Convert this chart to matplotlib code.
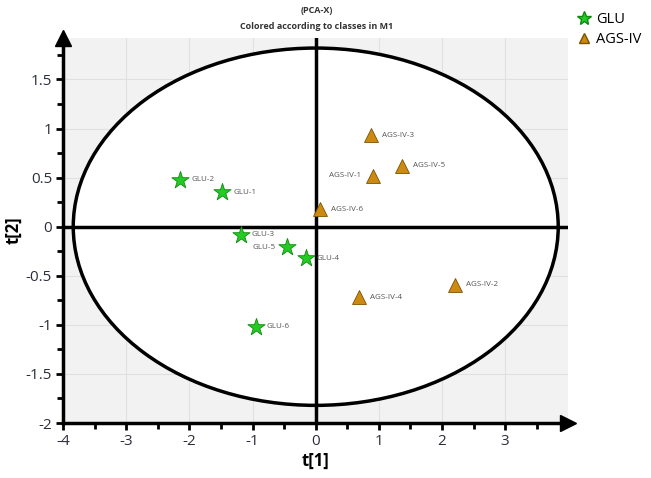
import numpy as np
import matplotlib.pyplot as plt
from matplotlib.patches import Ellipse
from matplotlib.lines import Line2D

# scores
glu_names = ["GLU-1", "GLU-2", "GLU-3", "GLU-4", "GLU-5", "GLU-6"]
glu_t1 = [-1.48, -2.15, -1.19, -0.16, -0.46, -0.95]
glu_t2 = [0.35, 0.48, -0.08, -0.32, -0.21, -1.02]

ags_names = ["AGS-IV-1", "AGS-IV-2", "AGS-IV-3", "AGS-IV-4", "AGS-IV-5", "AGS-IV-6"]
ags_t1 = [0.90, 2.20, 0.87, 0.68, 1.36, 0.07]
ags_t2 = [0.52, -0.59, 0.93, -0.72, 0.62, 0.18]

# Hotelling T2 ellipse half-axes
ell_a, ell_b = 3.84, 1.82

x_ticks = [-4, -3, -2, -1, 0, 1, 2, 3]
y_ticks = [-2, -1.5, -1, -0.5, 0, 0.5, 1, 1.5]

plt.rcParams["font.family"] = ["Open Sans", "DejaVu Sans"]

fig = plt.figure(figsize=(6.51, 4.78), dpi=100)
ax = fig.add_axes([0.097, 0.115, 0.776, 0.805])
ax.set_facecolor("#f2f2f2")
ax.set_xlim(-4, 4.0)
ax.set_ylim(-2, 1.92)

ax.set_xticks(x_ticks)
ax.set_xticks(np.arange(-4, 4.0, 0.5), minor=True)
ax.set_yticks(y_ticks)
ax.set_yticks(np.arange(-2, 1.9, 0.25), minor=True)
ax.set_xticklabels([str(v) for v in x_ticks], fontsize=11, color="#2b2f3a")
ax.set_yticklabels([("%g" % v) for v in y_ticks], fontsize=11, color="#2b2f3a")
ax.tick_params(which="major", length=5, width=2, direction="out", pad=3)
ax.tick_params(which="minor", length=4, width=2, direction="out")
ax.grid(True, which="major", color="#e0e0e0", lw=0.8, zorder=0)
ax.set_axisbelow(True)

for s in ["top", "right"]:
    ax.spines[s].set_visible(False)
for s in ["left", "bottom"]:
    ax.spines[s].set_linewidth(2.5)

# arrows on axes
ax.plot(1.0, 0, ">k", ms=11, transform=ax.transAxes, clip_on=False)
ax.plot(0, 1.0, "^k", ms=11, transform=ax.transAxes, clip_on=False)

ell = Ellipse((0, 0), 2 * ell_a, 2 * ell_b, facecolor="white", edgecolor="black", lw=2.5, zorder=1)
ax.add_patch(ell)
ax.axhline(0, color="black", lw=2.5, zorder=2)
ax.axvline(0, color="black", lw=2.5, zorder=2)

ax.scatter(glu_t1, glu_t2, marker="*", s=170, color="#22cc22", edgecolor="#118811", lw=0.6, zorder=4)
ax.scatter(ags_t1, ags_t2, marker="^", s=100, color="#cc8a10", edgecolor="#7a5200", lw=0.6, zorder=4)

left_labels = {"GLU-5", "AGS-IV-1"}
for names, xs, ys in [(glu_names, glu_t1, glu_t2), (ags_names, ags_t1, ags_t2)]:
    for n, x, y in zip(names, xs, ys):
        if n in left_labels:
            ax.annotate(n, (x, y), xytext=(-8, 0), textcoords="offset points",
                        ha="right", va="center", fontsize=5.8, color="#555555", zorder=5)
        else:
            ax.annotate(n, (x, y), xytext=(8, 0), textcoords="offset points",
                        ha="left", va="center", fontsize=5.8, color="#555555", zorder=5)

ax.set_xlabel("t[1]", fontsize=12, fontweight="bold", labelpad=2)
ax.set_ylabel("t[2]", fontsize=12, fontweight="bold", labelpad=2)

fig.text(0.487, 0.977, "(PCA-X)", ha="center", va="center", fontsize=6.5, fontweight="bold", color="#333333")
fig.text(0.487, 0.945, "Colored according to classes in M1", ha="center", va="center",
         fontsize=6.5, fontweight="bold", color="#333333")

handles = [
    Line2D([], [], marker="*", ls="none", ms=10, color="#22cc22", markeredgecolor="#118811"),
    Line2D([], [], marker="^", ls="none", ms=7, color="#cc8a10", markeredgecolor="#7a5200"),
]
fig.legend(handles, ["GLU", "AGS-IV"], loc="upper left", bbox_to_anchor=(0.868, 1.0),
           frameon=False, fontsize=10.5, handlelength=1.0, handletextpad=0.3,
           labelspacing=0.35, borderpad=0.3)

fig.savefig("out.png", dpi=100)
